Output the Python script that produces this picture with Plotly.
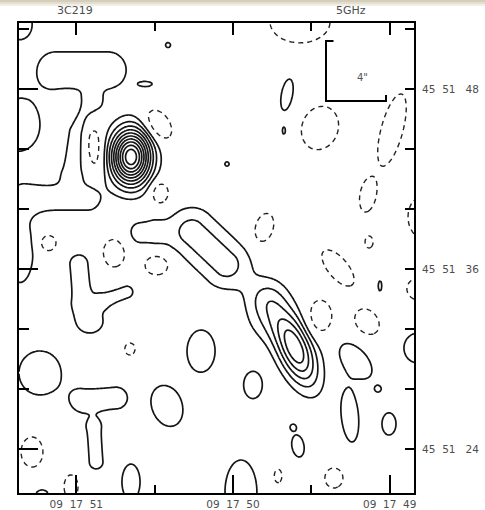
import numpy as np
import plotly.graph_objects as go

# ---------------- data (arcsec offsets from 09 17 50.0, +45 51 36; x positive = east) ----------------
# positive elliptical gaussian components: x, y, amplitude, sigma-major, sigma-minor, angle (deg ccw from right)
pos_x = [6.80, -4.13, -2.20, -2.13, 14.27, 14.27, 14.20, 12.73, 6.80, 12.87, 2.13, 4.40, -1.33, -8.20,
         -7.80, -10.40, -9.67, -4.33, -4.00, -0.53, -12.33, -9.80, -3.60, -3.40, 0.40, 5.80, 4.33, 9.53]
pos_y = [7.47, -5.27, -1.93, -3.60, 16.33, 9.60, 1.13, -15.20, -14.20, -6.93, -5.47, -9.13, -7.73, -6.13,
         -9.80, -10.33, -8.00, -11.80, -10.53, -14.87, -5.27, -1.13, 11.60, 9.20, 7.00, 12.33, 14.93, -3.53]
pos_amp = [10.8, 5.85, 1.8, 1.0, 1.8, 1.9, 1.8, 1.5, 1.5, 1.8, 1.8, 1.8, 1.8, 1.8,
           1.9, 1.8, 1.3, 1.8, 1.3, 1.8, 1.8, 1.3, 1.8, 1.3, 1.3, 1.3, 1.3, 1.5]
pos_sa = [1.29, 1.87, 1.00, 1.07, 0.80, 1.53, 1.87, 0.53, 1.33, 1.35, 1.29, 1.29, 0.83, 1.27,
          1.53, 0.68, 0.20, 0.68, 0.20, 1.97, 0.92, 0.47, 1.00, 0.33, 0.20, 0.53, 0.23, 0.93]
pos_sb = [0.93, 0.83, 1.00, 1.07, 0.93, 1.23, 0.80, 0.53, 0.67, 1.29, 0.86, 0.92, 0.57, 0.70,
          0.50, 0.43, 0.20, 0.37, 0.20, 0.98, 0.86, 0.17, 0.35, 0.15, 0.20, 0.20, 0.23, 0.80]
pos_pa = [90, -68, 0, 0, 0, 90, 90, 0, 90, 90, 90, -70, 90, -50,
          -85, 90, 0, 100, 0, 90, 90, 90, 80, 90, 0, 0, 0, 0]

# negative components
neg_x = [-4.47, -5.80, -10.60, -9.00, -12.80, -2.07, -7.00, -9.07, -5.80, -8.93, -12.60, -3.00, -6.73,
         9.27, 5.00, 4.87, 12.33, 7.93, 5.07, 6.87, 13.40, 10.80]
neg_y = [16.47, 9.40, 9.27, 4.93, 3.47, 2.73, 0.07, 1.80, -3.20, -3.53, -1.33, -13.80, -13.93,
         8.20, 9.60, 5.07, 1.73, 1.07, 0.27, -5.33, -12.20, -14.53]
neg_amp = [-2.2, -2.2, -3.0, -3.0, -2.2, -2.2, -2.2, -2.2, -2.2, -2.2, -2.2, -2.2, -2.2,
           -2.2, -2.6, -2.4, -2.2, -2.2, -2.2, -2.2, -2.2, -2.2]
neg_sa = [1.59, 1.17, 1.67, 0.77, 1.17, 0.80, 1.17, 0.32, 0.90, 0.74, 0.80, 0.37, 0.53,
          1.30, 0.86, 0.57, 0.43, 0.74, 0.64, 0.32, 0.80, 0.64]
neg_sb = [1.11, 0.96, 0.49, 0.36, 0.90, 0.48, 0.53, 0.21, 0.64, 0.58, 0.64, 0.21, 0.48,
          0.45, 0.57, 0.45, 0.43, 0.58, 0.53, 0.27, 0.58, 0.37]
neg_pa = [0, 70, 75, 80, 90, 73, -50, 90, 90, -50, 0, 90, 90,
          95, -55, 90, 0, 90, 0, 90, 90, 90]

# extended ridges (polylines): x list, y list, amplitude, gaussian width
ridge_px = [[11.80, 8.33], [9.40, 10.33, 10.73], [13.87, 9.67], [10.27, 10.07], [8.60, 7.07],
            [10.00, 7.80], [9.27, 9.13], [6.20, 5.40], [2.73, 0.47]]
ridge_py = [[13.27, 13.27], [11.00, 9.13, 6.47], [4.73, 4.73], [0.33, -2.07], [-2.07, -1.53],
            [-8.80, -8.60], [-10.60, -12.87], [2.40, 2.47], [2.47, 0.33]]
ridge_amp = [1.8, 1.5, 1.5, 1.5, 1.5, 1.5, 1.5, 1.45, 2.5]
ridge_s = [1.11, 0.60, 0.89, 0.67, 0.43, 0.80, 0.50, 0.73, 1.20]

pos_levels = [1, 12, 1]    # start, end, step
neg_level = -1

ra_ticks = [51.0, 50.5, 50.0, 49.5, 49.0]          # seconds of 09h17m
ra_labels = {51.0: "09\u00a0 17\u00a0 51", 50.0: "09\u00a0 17\u00a0 50", 49.0: "09\u00a0 17\u00a0 49"}
dec_ticks = [52, 48, 44, 40, 36, 32, 28, 24]       # arcsec of +45 51
dec_labels = {48: "45\u00a0 51\u00a0\u00a0 48", 36: "45\u00a0 51\u00a0\u00a0 36", 24: "45\u00a0 51\u00a0\u00a0 24"}
ra0, dec0 = 50.0, 36.0
cosdec = 15.0 * np.cos(np.radians(45 + 51.6 / 60))

xr = [14.267, -12.067]
yr = [-14.933, 16.4]

# ---------------- field (grid spans exactly the map window) ----------------
xs = np.linspace(xr[1], xr[0], 264)
ys = np.linspace(yr[0], yr[1], 314)
X, Y = np.meshgrid(xs, ys)
Z = np.zeros_like(X)


def gauss(x0, y0, a, sa, sb, pa):
    u = -(X - x0)
    v = Y - y0
    t = np.radians(pa)
    p = u * np.cos(t) + v * np.sin(t)
    q = -u * np.sin(t) + v * np.cos(t)
    return a * np.exp(-0.5 * ((p / sa) ** 2 + (q / sb) ** 2))


def ridge(px, py, a, s):
    d2 = np.full(X.shape, np.inf)
    for x1, y1, x2, y2 in zip(px[:-1], py[:-1], px[1:], py[1:]):
        dx, dy = x2 - x1, y2 - y1
        t = np.clip(((X - x1) * dx + (Y - y1) * dy) / (dx * dx + dy * dy), 0, 1)
        d2 = np.minimum(d2, (X - x1 - t * dx) ** 2 + (Y - y1 - t * dy) ** 2)
    return a * np.exp(-0.5 * d2 / s ** 2)


for c in zip(pos_x, pos_y, pos_amp, pos_sa, pos_sb, pos_pa):
    Z += gauss(*c)
for c in zip(neg_x, neg_y, neg_amp, neg_sa, neg_sb, neg_pa):
    Z += gauss(*c)
for c in zip(ridge_px, ridge_py, ridge_amp, ridge_s):
    Z += ridge(*c)
Z = np.round(Z, 3)

fig = go.Figure()
fig.add_trace(go.Contour(
    x=xs, y=ys, z=Z, showscale=False, hoverinfo="skip",
    contours=dict(start=pos_levels[0], end=pos_levels[1], size=pos_levels[2], coloring="none"),
    line=dict(color="#151515", width=1.7, smoothing=1.0)))
fig.add_trace(go.Contour(
    x=xs, y=ys, z=Z, showscale=False, hoverinfo="skip",
    contours=dict(start=neg_level, end=neg_level, size=1, coloring="none"),
    line=dict(color="#222222", width=1.4, dash="5px,4px", smoothing=1.0)))
fig.add_trace(go.Scatter(x=[0], y=[0], xaxis="x2", yaxis="y2", mode="markers",
                         marker=dict(opacity=0), hoverinfo="skip", showlegend=False))

ra_major = [(r - ra0) * cosdec for r in ra_ticks if r in ra_labels]
ra_minor = [(r - ra0) * cosdec for r in ra_ticks if r not in ra_labels]
dec_major = [d - dec0 for d in dec_ticks if d in dec_labels]
dec_minor = [d - dec0 for d in dec_ticks if d not in dec_labels]

tf = dict(family="DejaVu Sans", size=10.5, color="#4d4d4d")
common = dict(showgrid=False, zeroline=False, showline=True, linecolor="black", linewidth=2,
              ticks="inside", tickcolor="black", tickwidth=1.5, automargin=False)


def minor(n):
    return dict(tickvals=n[0], ticklen=n[1], ticks="inside", tickcolor="black", tickwidth=1.5, showgrid=False)


fig.update_layout(
    width=485, height=510, autosize=False,
    margin=dict(l=19, r=71, t=23, b=17, pad=0),
    paper_bgcolor="white", plot_bgcolor="white", showlegend=False,
    xaxis=dict(range=xr, tickvals=ra_major, ticktext=[ra_labels[r] for r in ra_ticks if r in ra_labels],
               ticklen=18, tickfont=tf, anchor="y", minor=minor((ra_minor, 8)), **common),
    xaxis2=dict(range=xr, overlaying="x", side="top", anchor="y2", tickvals=ra_major, showticklabels=False,
                ticklen=12, minor=minor((ra_minor, 8)), **common),
    yaxis=dict(range=yr, tickvals=dec_major, showticklabels=False, ticklen=19, anchor="x",
               minor=minor((dec_minor, 10)), **common),
    yaxis2=dict(range=yr, overlaying="y", side="right", anchor="x2", tickvals=dec_major,
                ticktext=[dec_labels[d] for d in dec_ticks if d in dec_labels], tickfont=tf, ticklen=9,
                ticklabelstandoff=4, minor=minor((dec_minor, 9)), **common),
)

# titles
fig.add_annotation(x=(75 - 19) / 395, y=1 + (23 - 11) / 470, xref="paper", yref="paper", text="3C219",
                   showarrow=False, yanchor="middle", xanchor="center",
                   font=dict(family="DejaVu Sans", size=11, color="#4d4d4d"))
fig.add_annotation(x=(351 - 19) / 395, y=1 + (23 - 11) / 470, xref="paper", yref="paper", text="5GHz",
                   showarrow=False, yanchor="middle", xanchor="center",
                   font=dict(family="DejaVu Sans", size=11, color="#4d4d4d"))

# scale bar (4 arcsec)
bar_len = 4.0
bx, by = -6.2, 15.2
fig.add_shape(type="path", xref="x", yref="y",
              path=f"M {bx - 0.5},{by} L {bx},{by} L {bx},{by - bar_len} L {bx - bar_len},{by - bar_len} "
                   f"L {bx - bar_len},{by - bar_len + 0.4}",
              line=dict(color="black", width=2))
fig.add_annotation(x=bx - bar_len * 0.6, y=by - bar_len * 0.6, xref="x", yref="y", text='4"', showarrow=False,
                   font=dict(family="DejaVu Sans", size=10, color="#555555"))

# scanned-page shading along the top edge
for y0, y1, col in [(0, 2, "#d3cfbb"), (2, 4, "#e2dfd0"), (4, 6, "#f0eee6")]:
    fig.add_shape(type="rect", xref="paper", yref="paper", x0=-19 / 395, x1=1 + 71 / 395,
                  y0=1 + (23 - y1) / 470, y1=1 + (23 - y0) / 470, line=dict(width=0), fillcolor=col, layer="below")

fig.write_html("out.html", config={"displayModeBar": False},
               post_script="document.body.style.margin='0';document.body.style.padding='0';")
